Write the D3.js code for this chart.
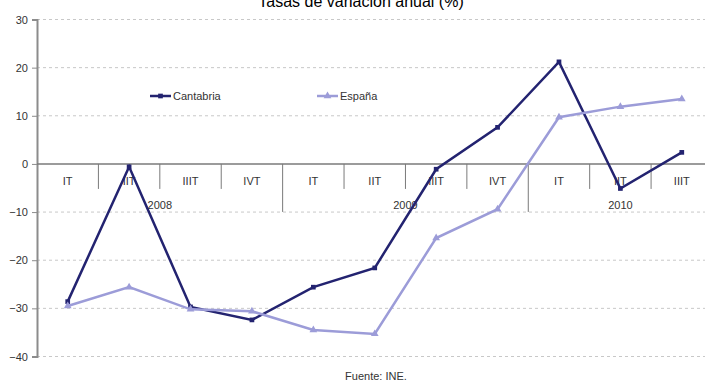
<!DOCTYPE html>
<html>
<head>
<meta charset="utf-8">
<script src="https://cdn.jsdelivr.net/npm/d3@7/dist/d3.min.js"></script>
<style>
  html, body { margin: 0; padding: 0; background: #fff; }
  svg { display: block; font-family: "Liberation Sans", Arial, sans-serif; }
</style>
</head>
<body>
<svg id="chart" width="705" height="381"></svg>
<script>
// Quarterly annual change rates (%)
const quarters = ["IT", "IIT", "IIIT", "IVT", "IT", "IIT", "IIIT", "IVT", "IT", "IIT", "IIIT"];
const years = [
  { label: "2008", start: 0, end: 4 },
  { label: "2009", start: 4, end: 8 },
  { label: "2010", start: 8, end: 11 }
];
const cantabria = [-28.6, -0.6, -29.7, -32.4, -25.6, -21.6, -1.1, 7.6, 21.2, -5.1, 2.4];
const espana = [-29.5, -25.6, -30.2, -30.6, -34.5, -35.3, -15.4, -9.4, 9.7, 11.9, 13.5];
const yTicks = [-40, -30, -20, -10, 0, 10, 20, 30];

const svg = d3.select("#chart");
const plotLeft = 37, plotRight = 712.5, plotTop = 19.5, plotBottom = 356.5;

const x = d3.scaleBand().domain(d3.range(quarters.length)).range([plotLeft, plotRight]).padding(0);
const cx = i => x(i) + x.bandwidth() / 2;
const y = d3.scaleLinear().domain([-40, 30]).range([plotBottom, plotTop]);

// Title
svg.append("text")
  .attr("x", 361).attr("y", 7)
  .attr("text-anchor", "middle")
  .attr("font-size", 16).attr("fill", "#000")
  .text("Tasas de variación anual (%)");

// Horizontal gridlines
svg.append("g").selectAll("line")
  .data(yTicks.filter(d => d !== 0))
  .join("line")
  .attr("x1", plotLeft).attr("x2", plotRight)
  .attr("y1", d => y(d)).attr("y2", d => y(d))
  .attr("stroke", "#c8c8c8").attr("stroke-width", 1)
  .attr("stroke-dasharray", "3,3");

// Y axis
const yAxis = svg.append("g")
  .attr("transform", `translate(${plotLeft},0)`)
  .call(d3.axisLeft(y).tickValues(yTicks).tickSize(5).tickPadding(4).tickFormat(d3.format("d")));
yAxis.select(".domain").attr("stroke", "#8c8c8c").attr("stroke-width", 2);
yAxis.selectAll(".tick line").attr("stroke", "#8c8c8c");
yAxis.selectAll(".tick text")
  .attr("font-family", "Liberation Sans, Arial, sans-serif")
  .attr("font-size", 11).attr("fill", "#333");

// Category axis along zero
const y0 = y(0);
svg.append("line")
  .attr("x1", plotLeft).attr("x2", plotRight)
  .attr("y1", y0).attr("y2", y0)
  .attr("stroke", "#7a7a7a").attr("stroke-width", 1.5);

const xPos = i => (i < quarters.length ? x(i) : plotRight);

// Quarter separators
const yearBounds = new Set(years.map(d => d.start));
svg.append("g").selectAll("line")
  .data(d3.range(1, quarters.length + 1).filter(i => !yearBounds.has(i)))
  .join("line")
  .attr("x1", xPos).attr("x2", xPos)
  .attr("y1", y0).attr("y2", y0 + 25)
  .attr("stroke", "#7a7a7a").attr("stroke-width", 1);

// Year separators
svg.append("g").selectAll("line")
  .data(years.slice(1).map(d => d.start))
  .join("line")
  .attr("x1", xPos).attr("x2", xPos)
  .attr("y1", y0).attr("y2", y0 + 48)
  .attr("stroke", "#7a7a7a").attr("stroke-width", 1);

// Quarter labels
svg.append("g").selectAll("text")
  .data(quarters)
  .join("text")
  .attr("x", (d, i) => cx(i)).attr("y", y0 + 21)
  .attr("text-anchor", "middle")
  .attr("font-size", 11).attr("fill", "#333")
  .text(d => d);

// Year labels
svg.append("g").selectAll("text")
  .data(years)
  .join("text")
  .attr("x", d => (xPos(d.start) + xPos(d.end)) / 2)
  .attr("y", y0 + 45)
  .attr("text-anchor", "middle")
  .attr("font-size", 11).attr("fill", "#333")
  .text(d => d.label);

// Series
const series = [
  { name: "Cantabria", values: cantabria, color: "#232370", symbol: d3.symbolSquare, size: 22, lx: 150 },
  { name: "España", values: espana, color: "#9c9cd8", symbol: d3.symbolTriangle, size: 26, lx: 317 }
];

const line = d3.line().x((d, i) => cx(i)).y(d => y(d));

series.forEach(s => {
  svg.append("path")
    .datum(s.values)
    .attr("fill", "none")
    .attr("stroke", s.color)
    .attr("stroke-width", 2.5)
    .attr("stroke-linejoin", "miter")
    .attr("d", line);
  svg.append("g").selectAll("path")
    .data(s.values)
    .join("path")
    .attr("transform", (d, i) => `translate(${cx(i)},${y(d)})`)
    .attr("d", d3.symbol().type(s.symbol).size(s.size))
    .attr("fill", s.color);
});

// Legend
series.forEach(s => {
  const g = svg.append("g").attr("transform", `translate(${s.lx},96)`);
  g.append("line").attr("x1", 0).attr("x2", 21).attr("y1", 0).attr("y2", 0)
    .attr("stroke", s.color).attr("stroke-width", 2.5);
  g.append("path").attr("transform", "translate(10.5,0)")
    .attr("d", d3.symbol().type(s.symbol).size(s.size)).attr("fill", s.color);
  g.append("text").attr("x", 23).attr("y", 4)
    .attr("font-size", 11).attr("fill", "#333").text(s.name);
});

// Source note
svg.append("text")
  .attr("x", 376).attr("y", 380)
  .attr("text-anchor", "middle")
  .attr("font-size", 11).attr("fill", "#333")
  .text("Fuente: INE.");
</script>
</body>
</html>
